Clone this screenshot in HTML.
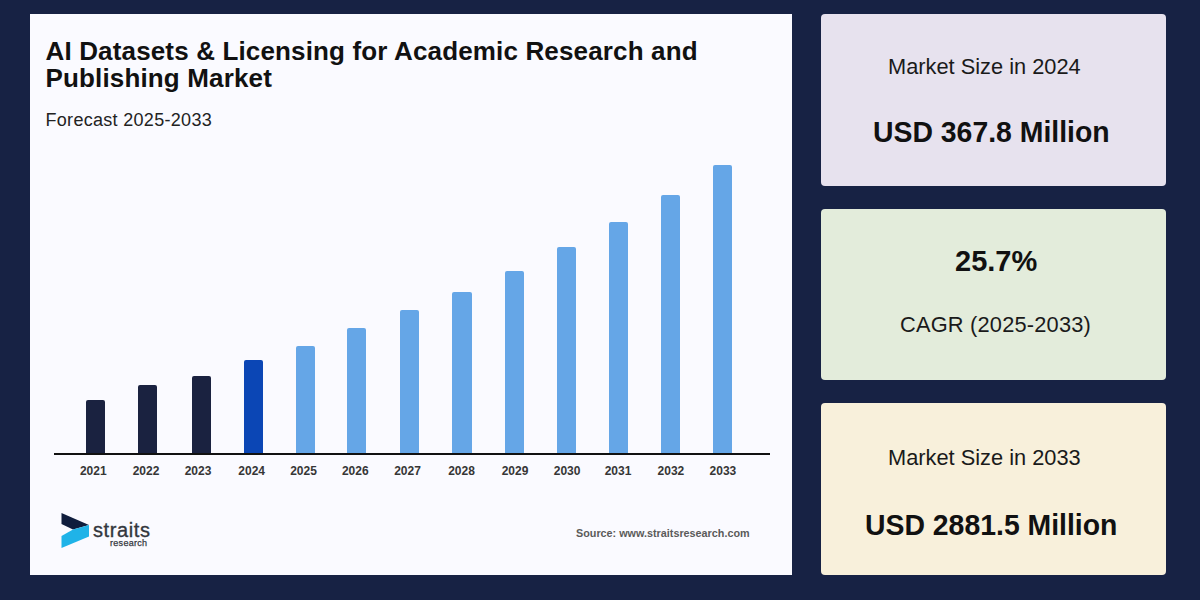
<!DOCTYPE html>
<html>
<head>
<meta charset="utf-8">
<style>
*{margin:0;padding:0;box-sizing:border-box}
html,body{width:1200px;height:600px;overflow:hidden}
body{background:#172244;font-family:"Liberation Sans",sans-serif;position:relative}
.panel{position:absolute;left:30px;top:14px;width:762px;height:561px;background:#fafaff}
.t{position:absolute;white-space:nowrap;line-height:1;color:#111}
.title{left:45.5px;top:38px;font-size:26px;font-weight:bold;line-height:27px;letter-spacing:0.15px;color:#111}
.sub{left:45.5px;top:111px;font-size:18px;letter-spacing:0.3px;color:#222}
.axis{position:absolute;left:54px;top:453px;width:716px;height:2px;background:#111}
.bar{position:absolute;width:19px;border-radius:2px 2px 0 0}
.d{background:#1a2240}
.m{background:#0b46b5}
.l{background:#65a6e7}
.lb{position:absolute;top:464.5px;width:40px;text-align:center;font-size:12px;font-weight:bold;color:#363636;line-height:1}
.src{left:576px;top:528px;font-size:10.8px;font-weight:bold;color:#5a5a5a}
.card{position:absolute;left:821px;width:345px;border-radius:4px}
.c1{top:14px;height:172px;background:#e7e2ee}
.c2{top:209px;height:171px;background:#e3ecdb}
.c3{top:403px;height:172px;background:#f8f0db}
.reg{font-size:21.8px;color:#1a1a1a}
.big{font-size:28.4px;font-weight:bold;color:#111;transform-origin:0 0;transform:scaleY(1.05)}
</style>
</head>
<body>
<div class="panel"></div>
<div class="t title">AI Datasets &amp; Licensing for Academic Research and<br>Publishing Market</div>
<div class="t sub">Forecast 2025-2033</div>

<div class="bar d" style="left:86px;top:400px;height:53px"></div>
<div class="bar d" style="left:138px;top:385px;height:68px"></div>
<div class="bar d" style="left:192px;top:376px;height:77px"></div>
<div class="bar m" style="left:244px;top:360px;height:93px"></div>
<div class="bar l" style="left:296px;top:346px;height:107px"></div>
<div class="bar l" style="left:347px;top:328px;height:125px"></div>
<div class="bar l" style="left:400px;top:310px;height:143px"></div>
<div class="bar l" style="left:452px;top:292px;height:161px;width:20px"></div>
<div class="bar l" style="left:505px;top:271px;height:182px"></div>
<div class="bar l" style="left:557px;top:247px;height:206px"></div>
<div class="bar l" style="left:609px;top:222px;height:231px"></div>
<div class="bar l" style="left:661px;top:195px;height:258px"></div>
<div class="bar l" style="left:713px;top:165px;height:288px"></div>
<div class="axis"></div>

<div class="lb" style="left:73.3px">2021</div>
<div class="lb" style="left:126.0px">2022</div>
<div class="lb" style="left:178.0px">2023</div>
<div class="lb" style="left:231.7px">2024</div>
<div class="lb" style="left:283.5px">2025</div>
<div class="lb" style="left:335.3px">2026</div>
<div class="lb" style="left:387.5px">2027</div>
<div class="lb" style="left:441.5px">2028</div>
<div class="lb" style="left:495.0px">2029</div>
<div class="lb" style="left:547.1px">2030</div>
<div class="lb" style="left:598.0px">2031</div>
<div class="lb" style="left:650.9px">2032</div>
<div class="lb" style="left:702.9px">2033</div>

<svg style="position:absolute;left:60px;top:510.5px" width="30" height="38" viewBox="0 0 30 38">
  <polygon points="1.5,2 29,14 13,18.5 1.5,13" fill="#0f1d3d"/>
  <polygon points="13,18.5 29,14 29,25.5 1.5,37 1.5,25" fill="#1fb3e8"/>
</svg>
<div class="t" style="left:93px;top:520px;font-size:20px;letter-spacing:0.6px;color:#33363d;-webkit-text-stroke:0.35px #33363d">straits</div>
<div class="t" style="left:110px;top:539px;font-size:9px;letter-spacing:0.3px;color:#33363d;-webkit-text-stroke:0.25px #33363d">research</div>

<div class="t src">Source: www.straitsresearch.com</div>

<div class="card c1"></div>
<div class="card c2"></div>
<div class="card c3"></div>

<div class="t reg" style="left:888px;top:56px">Market Size in 2024</div>
<div class="t big" style="left:873px;top:117px">USD 367.8 Million</div>
<div class="t big" style="left:955px;top:246.5px;font-size:29px;transform:scaleY(1.0)">25.7%</div>
<div class="t reg" style="left:900px;top:314px;letter-spacing:0.2px">CAGR (2025-2033)</div>
<div class="t reg" style="left:888px;top:447px">Market Size in 2033</div>
<div class="t big" style="left:865px;top:510px">USD 2881.5 Million</div>
</body>
</html>
